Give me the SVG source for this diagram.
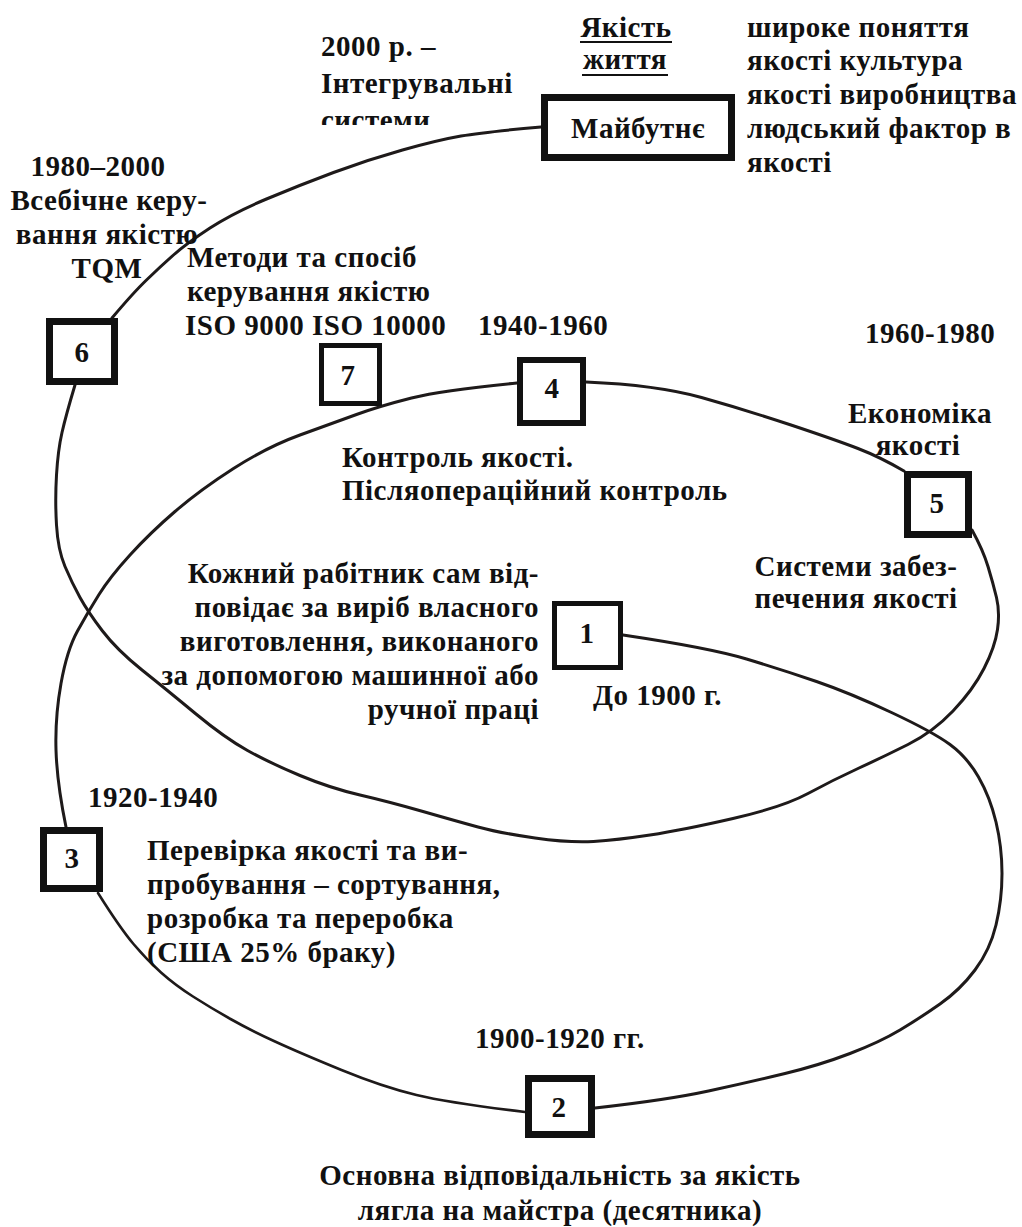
<svg xmlns="http://www.w3.org/2000/svg" width="1022" height="1227" viewBox="0 0 1022 1227">
<style>
text{font-family:"Liberation Serif","Times New Roman",serif;font-weight:bold;font-size:29px;fill:#111;letter-spacing:0.5px}
.c{fill:none;stroke:#1e1a1a;stroke-width:3;stroke-linecap:round;stroke-linejoin:round}
.b{fill:#fff;stroke:#111}
.m{text-anchor:middle}
.e{text-anchor:end}
.u{stroke:#111;stroke-width:2}
</style>
<defs>
<clipPath id="clipSys"><rect x="300" y="100" width="240" height="25"/></clipPath>
</defs>
<rect width="1022" height="1227" fill="#fff"/>
<g id="connectors">
<path class="c" d="M 623,635 Q 710,648 746.5,659 Q 783,670 816.5,681.5 Q 850,693 891.5,712.5 Q 933,732 950,744.5 Q 967,757 978.5,777 Q 990,797 996,822 Q 1002,847 1002,873.5 Q 1002,900 996,925 Q 990,950 975,970 Q 960,990 940,1004 Q 920,1018 900,1030 Q 880,1042 850,1053.5 Q 820,1065 785,1073.5 Q 750,1082 708.5,1091 Q 667,1100 595,1108"/>
<path class="c" style="stroke-width:2.6" d="M 525,1112 Q 450,1103 416.5,1095 Q 383,1087 341.5,1070 Q 300,1053 275,1041.5 Q 250,1030 230.5,1019 Q 211,1008 193,996.5 Q 175,985 161,972.5 Q 147,960 133.5,944 Q 120,928 98,893"/>
<path class="c" d="M 66,827 Q 57,783 56,750 Q 55,717 61,683.5 Q 67,650 77.5,631 Q 88,612 99,594.5 Q 110,577 130,555 Q 150,533 175,511.5 Q 200,490 233.5,468.5 Q 267,447 300,435 Q 333,423 356.5,414.5 Q 380,406 411.5,398 Q 443,390 517,383"/>
<path class="c" d="M 586,382 Q 657,385 701.5,397.5 Q 746,410 791,425 Q 836,440 858,448.5 Q 880,457 904,471"/>
<path class="c" d="M 972,530 Q 983,550 988,566.5 Q 993,583 996.5,597.5 Q 1000,612 997.5,629.5 Q 995,647 984,668.5 Q 973,690 953,711 Q 933,732 908,744.5 Q 883,757 858,768.5 Q 833,780 808,793.5 Q 783,807 733,818.5 Q 683,830 650,835 Q 617,840 593.5,841.5 Q 570,843 535,838 Q 500,833 478,827 Q 456,821 423,811.5 Q 390,802 360,795 Q 330,788 300,775.5 Q 270,763 247.5,750.5 Q 225,738 196,714 Q 167,690 142,670 Q 117,650 102.5,631 Q 88,612 80,597.5 Q 72,583 65,566.5 Q 58,550 56.5,525 Q 55,500 56.5,475 Q 58,450 62,432.5 Q 66,415 75,385"/>
<path class="c" d="M 112,318 Q 133,293 146.5,280 Q 160,267 173.5,255 Q 187,243 210,228 Q 233,213 266.5,199 Q 300,185 333.5,172.5 Q 367,160 402.5,150 Q 438,140 461,136 Q 484,132 541,127"/>
</g>
<g id="future">
<rect class="b" x="544.5" y="97.5" width="187" height="60" stroke-width="7"/>
<text class="m" x="638" y="138">Майбутнє</text>
</g>
<g id="node6">
<rect class="b" x="49.5" y="321.5" width="65" height="60" stroke-width="7"/>
<text class="m" x="82" y="362">6</text>
</g>
<g id="node7">
<rect class="b" x="321.5" y="345.5" width="58" height="58" stroke-width="5"/>
<text class="m" x="348" y="385">7</text>
</g>
<g id="node4">
<rect class="b" x="520" y="360" width="63" height="63" stroke-width="6"/>
<text class="m" x="552" y="398">4</text>
</g>
<g id="node5">
<rect class="b" x="907.5" y="474.5" width="61" height="60" stroke-width="7"/>
<text class="m" x="937" y="513">5</text>
</g>
<g id="node1">
<rect class="b" x="554.5" y="603.5" width="66" height="64" stroke-width="5"/>
<text class="m" x="587" y="643">1</text>
</g>
<g id="node3">
<rect class="b" x="43.5" y="830.5" width="56" height="58" stroke-width="7"/>
<text class="m" x="72" y="868">3</text>
</g>
<g id="node2">
<rect class="b" x="528.5" y="1078.5" width="63" height="56" stroke-width="7"/>
<text class="m" x="559" y="1117">2</text>
</g>
<g id="labels">
<text x="321" y="56">2000 р. –</text>
<text x="321" y="93">Інтегрувальні</text>
<text x="321" y="130" clip-path="url(#clipSys)">системи</text>
<text class="m" x="626" y="37">Якість</text>
<line class="u" x1="580" y1="42" x2="672" y2="42"/>
<text class="m" x="625" y="69">життя</text>
<line class="u" x1="582" y1="75" x2="668" y2="75"/>
<text x="747" y="37">широке поняття</text>
<text x="747" y="70">якості культура</text>
<text x="747" y="104">якості виробництва</text>
<text x="747" y="138">людський фактор в</text>
<text x="747" y="172">якості</text>
<text class="m" x="98" y="176">1980–2000</text>
<text class="m" x="109" y="210">Всебічне керу-</text>
<text class="m" x="107" y="244">вання якістю</text>
<text class="m" x="107" y="278">TQM</text>
<text x="187" y="267">Методи та спосіб</text>
<text x="187" y="301">керування якістю</text>
<text x="185" y="335">ISO 9000 ISO 10000</text>
<text x="478" y="335">1940-1960</text>
<text x="865" y="343">1960-1980</text>
<text class="m" x="920" y="423">Економіка</text>
<text class="m" x="918" y="455">якості</text>
<text x="342" y="467">Контроль якості.</text>
<text x="342" y="500">Післяопераційний контроль</text>
<text class="m" x="856" y="576">Системи забез-</text>
<text class="m" x="856" y="608">печения якості</text>
<text class="e" x="539" y="583">Кожний рабітник сам від-</text>
<text class="e" x="539" y="617">повідає за виріб власного</text>
<text class="e" x="539" y="651">виготовлення, виконаного</text>
<text class="e" x="539" y="685">за допомогою машинної або</text>
<text class="e" x="539" y="719">ручної праці</text>
<text x="593" y="705">До 1900 г.</text>
<text x="88" y="807">1920-1940</text>
<text x="147" y="860">Перевірка якості та ви-</text>
<text x="147" y="894">пробування – сортування,</text>
<text x="147" y="928">розробка та переробка</text>
<text x="147" y="962">(США 25% браку)</text>
<text x="475" y="1048">1900-1920 гг.</text>
<text class="m" x="560" y="1185">Основна відповідальність за якість</text>
<text class="m" x="560" y="1220">лягла на майстра (десятника)</text>
</g>
</svg>
